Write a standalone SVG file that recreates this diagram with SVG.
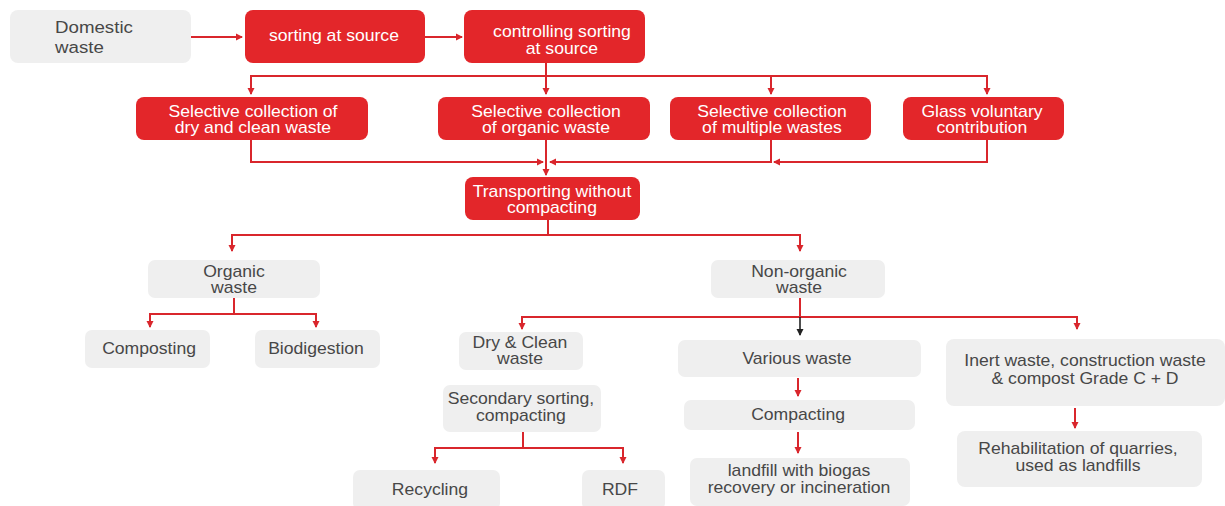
<svg xmlns="http://www.w3.org/2000/svg" width="1225" height="506" viewBox="0 0 1225 506">
<defs>
<style>
.red{fill:#e3262a;}
.grey{fill:#efefef;}
.wt{fill:#ffffff;font-family:"Liberation Sans",Arial,sans-serif;font-size:16px;text-anchor:middle;}
.gt{fill:#474747;font-family:"Liberation Sans",Arial,sans-serif;font-size:16px;text-anchor:middle;}
.ln{fill:none;stroke:#d9262c;stroke-width:2;}
.lb{fill:none;stroke:#222222;stroke-width:1.6;}
</style>
<marker id="ar" markerWidth="8" markerHeight="8" refX="6" refY="4" orient="auto" markerUnits="userSpaceOnUse"><path d="M0,0.5 L7,4 L0,7.5 Z" fill="#d9262c"/></marker>
<marker id="ab" markerWidth="8" markerHeight="8" refX="6" refY="4" orient="auto" markerUnits="userSpaceOnUse"><path d="M0,0.5 L7,4 L0,7.5 Z" fill="#222222"/></marker>
</defs>
<rect width="1225" height="506" fill="#ffffff"/>
<g id="connectors">
<path class="ln" d="M191,37 H242" marker-end="url(#ar)"/>
<path class="ln" d="M425,37 H462" marker-end="url(#ar)"/>
<path class="ln" d="M546,63 V94" marker-end="url(#ar)"/>
<path class="ln" d="M251,94 V76 H987 V94" marker-end="url(#ar)"/>
<path class="ln" d="M251,76 V94" marker-end="url(#ar)"/>
<path class="ln" d="M771,76 V94" marker-end="url(#ar)"/>
<path class="ln" d="M251,140 V162 H543" marker-end="url(#ar)"/>
<path class="ln" d="M771,140 V162 H550" marker-end="url(#ar)"/>
<path class="ln" d="M987,140 V162 H774" marker-end="url(#ar)"/>
<path class="ln" d="M546,140 V175" marker-end="url(#ar)"/>
<path class="ln" d="M548,220 V235"/>
<path class="ln" d="M232,251 V235 H800 V251" marker-end="url(#ar)"/>
<path class="ln" d="M232,235 V251" marker-end="url(#ar)"/>
<path class="ln" d="M234,298 V314"/>
<path class="ln" d="M150,327 V314 H316 V327" marker-end="url(#ar)"/>
<path class="ln" d="M150,314 V327" marker-end="url(#ar)"/>
<path class="ln" d="M800,298 V317"/>
<path class="ln" d="M522,329 V317 H1077 V329" marker-end="url(#ar)"/>
<path class="ln" d="M522,317 V329" marker-end="url(#ar)"/>
<path class="lb" d="M800,317 V335" marker-end="url(#ab)"/>
<path class="ln" d="M798,378 V396" marker-end="url(#ar)"/>
<path class="ln" d="M798,432 V453" marker-end="url(#ar)"/>
<path class="ln" d="M1075,408 V428" marker-end="url(#ar)"/>
<path class="ln" d="M523,432 V448"/>
<path class="ln" d="M435,463 V448 H623 V463" marker-end="url(#ar)"/>
<path class="ln" d="M435,448 V463" marker-end="url(#ar)"/>
</g>
<g id="domestic"><rect class="grey" x="10" y="10" width="181" height="53" rx="8"/><g transform="scale(1.1 1)"><text class="gt" x="50" y="33" style="text-anchor:start;font-size:17px">Domestic</text><text class="gt" x="50" y="53" style="text-anchor:start;font-size:17px">waste</text></g></g>
<g id="sorting"><rect class="red" x="245" y="10" width="180" height="53" rx="8"/><g transform="scale(1.1 1)"><text class="wt" x="303.6" y="41">sorting at source</text></g></g>
<g id="controlling"><rect class="red" x="464" y="10" width="181" height="53" rx="8"/><g transform="scale(1.1 1)"><text class="wt" x="510.9" y="37">controlling sorting</text><text class="wt" x="510.9" y="54">at source</text></g></g>
<g id="sel-dry"><rect class="red" x="136" y="97" width="232" height="43" rx="8"/><g transform="scale(1.1 1)"><text class="wt" x="230" y="117">Selective collection of</text><text class="wt" x="230" y="133">dry and clean waste</text></g></g>
<g id="sel-organic"><rect class="red" x="438" y="97" width="212" height="43" rx="8"/><g transform="scale(1.1 1)"><text class="wt" x="496.4" y="117">Selective collection</text><text class="wt" x="496.4" y="133">of organic waste</text></g></g>
<g id="sel-multiple"><rect class="red" x="670" y="97" width="201" height="43" rx="8"/><g transform="scale(1.1 1)"><text class="wt" x="701.8" y="117">Selective collection</text><text class="wt" x="701.8" y="133">of multiple wastes</text></g></g>
<g id="glass"><rect class="red" x="903" y="97" width="161" height="43" rx="8"/><g transform="scale(1.1 1)"><text class="wt" x="892.7" y="117">Glass voluntary</text><text class="wt" x="892.7" y="133">contribution</text></g></g>
<g id="transporting"><rect class="red" x="465" y="177" width="175" height="43" rx="8"/><g transform="scale(1.1 1)"><text class="wt" x="501.8" y="197">Transporting without</text><text class="wt" x="501.8" y="213">compacting</text></g></g>
<g id="organic"><rect class="grey" x="148" y="260" width="172" height="38" rx="7"/><g transform="scale(1.1 1)"><text class="gt" x="212.7" y="277">Organic</text><text class="gt" x="212.7" y="293">waste</text></g></g>
<g id="nonorganic"><rect class="grey" x="711" y="260" width="174" height="38" rx="7"/><g transform="scale(1.1 1)"><text class="gt" x="726.4" y="277">Non-organic</text><text class="gt" x="726.4" y="293">waste</text></g></g>
<g id="composting"><rect class="grey" x="85" y="330" width="125" height="38" rx="7"/><g transform="scale(1.1 1)"><text class="gt" x="135.5" y="354">Composting</text></g></g>
<g id="biodigestion"><rect class="grey" x="255" y="330" width="125" height="38" rx="7"/><g transform="scale(1.1 1)"><text class="gt" x="287.3" y="354">Biodigestion</text></g></g>
<g id="dryclean"><rect class="grey" x="459" y="332" width="124" height="38" rx="7"/><g transform="scale(1.1 1)"><text class="gt" x="472.7" y="348">Dry &amp; Clean</text><text class="gt" x="472.7" y="364">waste</text></g></g>
<g id="various"><rect class="grey" x="678" y="340" width="243" height="37" rx="7"/><g transform="scale(1.1 1)"><text class="gt" x="724.5" y="364">Various waste</text></g></g>
<g id="inert"><rect class="grey" x="946" y="339" width="279" height="67" rx="8"/><g transform="scale(1.1 1)"><text class="gt" x="986.4" y="366">Inert waste, construction waste</text><text class="gt" x="986.4" y="384">&amp; compost Grade C + D</text></g></g>
<g id="secondary"><rect class="grey" x="443" y="385" width="158" height="47" rx="7"/><g transform="scale(1.1 1)"><text class="gt" x="473.6" y="404">Secondary sorting,</text><text class="gt" x="473.6" y="421">compacting</text></g></g>
<g id="compacting"><rect class="grey" x="684" y="400" width="231" height="30" rx="7"/><g transform="scale(1.1 1)"><text class="gt" x="725.5" y="420">Compacting</text></g></g>
<g id="landfill"><rect class="grey" x="690" y="458" width="220" height="48" rx="7"/><g transform="scale(1.1 1)"><text class="gt" x="726.4" y="476">landfill with biogas</text><text class="gt" x="726.4" y="493">recovery or incineration</text></g></g>
<g id="rehab"><rect class="grey" x="957" y="431" width="245" height="56" rx="8"/><g transform="scale(1.1 1)"><text class="gt" x="980" y="454">Rehabilitation of quarries,</text><text class="gt" x="980" y="471">used as landfills</text></g></g>
<g id="recycling"><rect class="grey" x="353" y="470" width="147" height="40" rx="7"/><g transform="scale(1.1 1)"><text class="gt" x="390.9" y="495">Recycling</text></g></g>
<g id="rdf"><rect class="grey" x="582" y="470" width="83" height="40" rx="7"/><g transform="scale(1.1 1)"><text class="gt" x="563.6" y="495">RDF</text></g></g>
</svg>
